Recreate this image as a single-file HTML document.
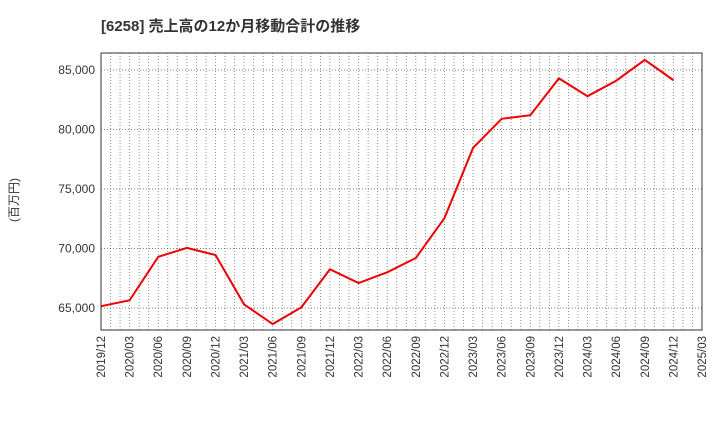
<!DOCTYPE html>
<html><head><meta charset="utf-8"><style>
body{margin:0;background:#fff;font-family:"Liberation Sans","Noto Sans CJK JP",sans-serif;}
</style></head><body>
<svg id="c" width="720" height="440" xmlns="http://www.w3.org/2000/svg">
<text x="101" y="31" font-size="15" font-weight="bold" fill="#333" font-family="Liberation Sans, Noto Sans CJK JP, sans-serif">[6258]  売上高の12か月移動合計の推移</text>
<text transform="translate(18,200) rotate(-90)" font-size="12" fill="#333" text-anchor="middle" font-family="Liberation Sans, Noto Sans CJK JP, sans-serif">(百万円)</text>
<g id="grid"></g><g id="ticks"></g>
<rect x="101" y="53" width="601" height="277" fill="none" stroke="#333" stroke-width="1"/>
<polyline id="line" fill="none" stroke="#e00" stroke-width="2"/>
</svg>
<script>
const categories=["2019/12","2020/03","2020/06","2020/09","2020/12","2021/03","2021/06","2021/09","2021/12","2022/03","2022/06","2022/09","2022/12","2023/03","2023/06","2023/09","2023/12","2024/03","2024/06","2024/09","2024/12","2025/03"];
const salesValues=[65150,65650,69300,70050,69450,65300,63650,65050,68250,67100,68000,69200,72550,78450,80900,81200,84300,82800,84100,85850,84150];
const yTicks=[65000,70000,75000,80000,85000];
const yTickLabels=["65,000","70,000","75,000","80,000","85,000"];
const NS="http://www.w3.org/2000/svg";
const X0=101,X1=702,Y0=330,Y1=53,YMIN=63150,YMAX=86430;
function xs(i){return X0+(X1-X0)*i/(categories.length-1);}
function ys(v){return Y0-(v-YMIN)/(YMAX-YMIN)*(Y0-Y1);}
const grid=document.getElementById('grid'),tk=document.getElementById('ticks');
const months=(categories.length-1)*3;
for(let m=1;m<months;m++){
 const x=xs(m/3);
 const l=document.createElementNS(NS,'line');
 l.setAttribute('x1',x);l.setAttribute('x2',x);l.setAttribute('y1',Y1);l.setAttribute('y2',Y0);
 l.setAttribute('stroke','#777');l.setAttribute('stroke-dasharray','1,2');l.setAttribute('stroke-width','0.8');
 
 
 grid.appendChild(l);
}
categories.forEach((c,i)=>{
 const x=xs(i);
 const t=document.createElementNS(NS,'text');
 t.setAttribute('transform',`translate(${x+4},336) rotate(-90)`);
 t.setAttribute('text-anchor','end');t.setAttribute('font-size','11.5');t.setAttribute('fill','#333');
 t.textContent=c;
 
 
 tk.appendChild(t);
});
yTicks.forEach((v,i)=>{
 const y=ys(v);
 const l=document.createElementNS(NS,'line');
 l.setAttribute('x1',X0);l.setAttribute('x2',X1);l.setAttribute('y1',y);l.setAttribute('y2',y);
 l.setAttribute('stroke','#555');l.setAttribute('stroke-dasharray','1,2');l.setAttribute('stroke-width','0.8');
 
 
 grid.appendChild(l);
 const t=document.createElementNS(NS,'text');
 t.setAttribute('x',X0-6);t.setAttribute('y',y+4);t.setAttribute('text-anchor','end');
 t.setAttribute('font-size','12');t.setAttribute('fill','#333');
 t.textContent=yTickLabels[i];
 
 
 tk.appendChild(t);
});
document.getElementById('line').setAttribute('points',salesValues.map((v,i)=>xs(i)+','+ys(v)).join(' '));
</script>
</body></html>
